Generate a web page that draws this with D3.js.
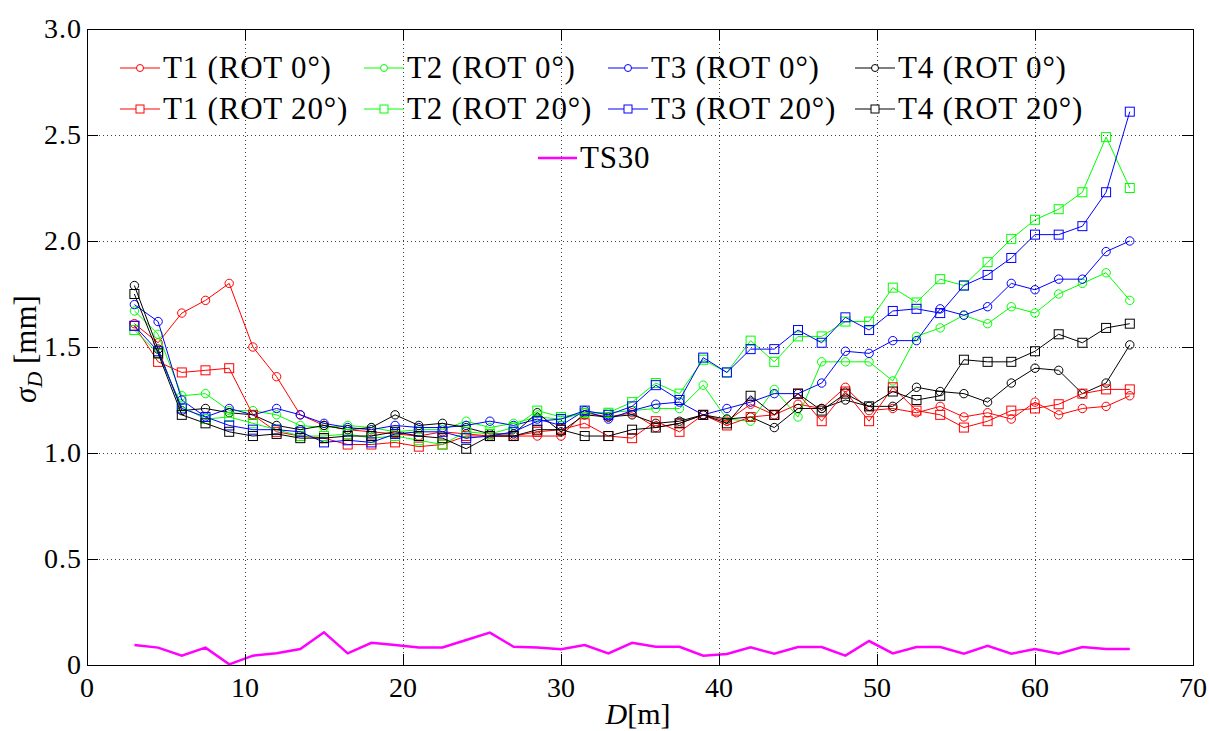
<!DOCTYPE html>
<html>
<head>
<meta charset="utf-8">
<script src="https://cdn.jsdelivr.net/npm/d3@7/dist/d3.min.js"></script>
<style>
  body { margin: 0; background: #fff; }
</style>
</head>
<body>
<svg id="chart" width="1209" height="731"></svg>
<script>
var red = '#ff0000';
var green = '#00ff00';
var blue = '#0000ff';
var black = '#000000';
var magenta = '#ff00ff';
var textFont = '"Liberation Serif", "Times New Roman"';

var width = 1209;
var height = 731;
var margin = { top: 29, right: 16, bottom: 66, left: 87 };

// distances [m]
var dist = [3, 4.5, 6, 7.5, 9, 10.5, 12, 13.5, 15, 16.5, 18, 19.5, 21, 22.5, 24, 25.5, 27, 28.5, 30, 31.5,
  33, 34.5, 36, 37.5, 39, 40.5, 42, 43.5, 45, 46.5, 48, 49.5, 51, 52.5, 54, 55.5, 57, 58.5, 60, 61.5, 63, 64.5, 66];

var t1Rot0 = [1.61, 1.52, 1.66, 1.72, 1.80, 1.50, 1.36, 1.18, 1.13, 1.11, 1.10, 1.09, 1.08, 1.10, 1.09, 1.08, 1.08, 1.08, 1.08, 1.19,
  1.17, 1.19, 1.12, 1.14, 1.18, 1.15, 1.23, 1.18, 1.23, 1.21, 1.31, 1.20, 1.21, 1.19, 1.22, 1.17, 1.19, 1.16, 1.24, 1.18, 1.21, 1.22, 1.27];
var t1Rot20 = [1.60, 1.43, 1.38, 1.39, 1.40, 1.18, 1.10, 1.08, 1.07, 1.04, 1.04, 1.05, 1.03, 1.04, 1.08, 1.08, 1.08, 1.10, 1.11, 1.14,
  1.08, 1.07, 1.15, 1.10, 1.18, 1.13, 1.17, 1.18, 1.28, 1.15, 1.29, 1.15, 1.31, 1.20, 1.18, 1.12, 1.15, 1.20, 1.21, 1.23, 1.28, 1.30, 1.30];
var t2Rot0 = [1.67, 1.56, 1.27, 1.28, 1.20, 1.20, 1.18, 1.13, 1.12, 1.13, 1.12, 1.10, 1.11, 1.11, 1.15, 1.12, 1.14, 1.17, 1.16, 1.19,
  1.19, 1.20, 1.21, 1.21, 1.32, 1.16, 1.15, 1.30, 1.17, 1.43, 1.43, 1.43, 1.34, 1.55, 1.59, 1.65, 1.61, 1.69, 1.66, 1.75, 1.80, 1.85, 1.72];
var t2Rot20 = [1.58, 1.47, 1.22, 1.16, 1.17, 1.14, 1.11, 1.08, 1.08, 1.09, 1.07, 1.08, 1.06, 1.04, 1.10, 1.09, 1.12, 1.20, 1.17, 1.19,
  1.19, 1.24, 1.33, 1.28, 1.44, 1.38, 1.53, 1.43, 1.55, 1.55, 1.62, 1.62, 1.78, 1.71, 1.82, 1.79, 1.90, 2.01, 2.10, 2.15, 2.23, 2.49, 2.25];
var t3Rot0 = [1.70, 1.62, 1.25, 1.17, 1.21, 1.18, 1.21, 1.18, 1.14, 1.12, 1.11, 1.13, 1.12, 1.12, 1.13, 1.15, 1.13, 1.16, 1.13, 1.20,
  1.16, 1.20, 1.23, 1.24, 1.18, 1.21, 1.24, 1.28, 1.28, 1.33, 1.48, 1.47, 1.53, 1.53, 1.68, 1.65, 1.69, 1.80, 1.77, 1.82, 1.82, 1.95, 2.00];
var t3Rot20 = [1.60, 1.48, 1.21, 1.17, 1.13, 1.11, 1.11, 1.10, 1.05, 1.06, 1.05, 1.09, 1.10, 1.10, 1.07, 1.08, 1.10, 1.15, 1.16, 1.20,
  1.18, 1.22, 1.32, 1.25, 1.45, 1.38, 1.49, 1.49, 1.58, 1.52, 1.64, 1.58, 1.67, 1.68, 1.66, 1.79, 1.84, 1.92, 2.03, 2.03, 2.07, 2.23, 2.61];
var t4Rot0 = [1.79, 1.49, 1.20, 1.21, 1.19, 1.18, 1.13, 1.11, 1.13, 1.11, 1.12, 1.18, 1.13, 1.14, 1.12, 1.09, 1.09, 1.19, 1.10, 1.18,
  1.17, 1.18, 1.14, 1.15, 1.18, 1.16, 1.17, 1.12, 1.21, 1.21, 1.25, 1.22, 1.22, 1.31, 1.29, 1.28, 1.24, 1.33, 1.40, 1.39, 1.28, 1.33, 1.51];
var t4Rot20 = [1.75, 1.47, 1.18, 1.14, 1.10, 1.08, 1.09, 1.07, 1.07, 1.08, 1.08, 1.10, 1.08, 1.07, 1.02, 1.08, 1.08, 1.11, 1.11, 1.08,
  1.08, 1.11, 1.12, 1.14, 1.18, 1.14, 1.27, 1.18, 1.28, 1.20, 1.28, 1.22, 1.29, 1.25, 1.27, 1.44, 1.43, 1.43, 1.48, 1.56, 1.52, 1.59, 1.61];
var ts30 = [0.094, 0.082, 0.044, 0.082, 0.003, 0.044, 0.055, 0.075, 0.154, 0.055, 0.105, 0.094, 0.083, 0.083, 0.118, 0.153, 0.086, 0.082, 0.074, 0.094,
  0.055, 0.105, 0.086, 0.086, 0.044, 0.052, 0.083, 0.053, 0.085, 0.085, 0.044, 0.113, 0.055, 0.085, 0.085, 0.053, 0.091, 0.053, 0.075, 0.053, 0.085, 0.075, 0.075];

var xTicks = [0, 10, 20, 30, 40, 50, 60, 70];
var yTicks = [0, 0.5, 1.0, 1.5, 2.0, 2.5, 3.0];

var series = [
  { name: 'T1 (ROT 0°)', values: t1Rot0, color: red, marker: 'circle' },
  { name: 'T2 (ROT 0°)', values: t2Rot0, color: green, marker: 'circle' },
  { name: 'T3 (ROT 0°)', values: t3Rot0, color: blue, marker: 'circle' },
  { name: 'T4 (ROT 0°)', values: t4Rot0, color: black, marker: 'circle' },
  { name: 'T1 (ROT 20°)', values: t1Rot20, color: red, marker: 'square' },
  { name: 'T2 (ROT 20°)', values: t2Rot20, color: green, marker: 'square' },
  { name: 'T3 (ROT 20°)', values: t3Rot20, color: blue, marker: 'square' },
  { name: 'T4 (ROT 20°)', values: t4Rot20, color: black, marker: 'square' }
];

var svg = d3.select('#chart');
svg.append('rect').attr('width', width).attr('height', height).attr('fill', '#fff');

var x = d3.scaleLinear().domain([0, 70]).range([margin.left, width - margin.right]);
var y = d3.scaleLinear().domain([0, 3]).range([height - margin.bottom, margin.top]);

var x0 = x(0), x1 = x(70), y0 = y(0), y1 = y(3);

/// grid
var grid = svg.append('g').attr('stroke', '#000').attr('stroke-width', 1)
  .attr('stroke-dasharray', '1,3').attr('opacity', 0.75);
grid.selectAll('.vg').data(xTicks.slice(1, -1)).enter().append('line')
  .attr('x1', function (d) { return Math.round(x(d)) + 0.5; })
  .attr('x2', function (d) { return Math.round(x(d)) + 0.5; })
  .attr('y1', y0).attr('y2', y1);
grid.selectAll('.hg').data(yTicks.slice(1, -1)).enter().append('line')
  .attr('y1', function (d) { return Math.round(y(d)) + 0.5; })
  .attr('y2', function (d) { return Math.round(y(d)) + 0.5; })
  .attr('x1', x0).attr('x2', x1);

/// series
var line = d3.line()
  .x(function (d, i) { return x(dist[i]); })
  .y(function (d) { return y(d); });

series.forEach(function (s) {
  var g = svg.append('g');
  g.append('path').datum(s.values)
    .attr('d', line).attr('fill', 'none')
    .attr('stroke', s.color).attr('stroke-width', 1);
  if (s.marker === 'circle') {
    g.selectAll('circle').data(s.values).enter().append('circle')
      .attr('cx', function (d, i) { return x(dist[i]); })
      .attr('cy', function (d) { return y(d); })
      .attr('r', 4.2)
      .attr('fill', 'none').attr('stroke', s.color).attr('stroke-width', 1);
  } else {
    g.selectAll('rect').data(s.values).enter().append('rect')
      .attr('x', function (d, i) { return x(dist[i]) - 4.5; })
      .attr('y', function (d) { return y(d) - 4.5; })
      .attr('width', 9).attr('height', 9)
      .attr('fill', 'none').attr('stroke', s.color).attr('stroke-width', 1);
  }
});

svg.append('path').datum(ts30)
  .attr('d', line).attr('fill', 'none')
  .attr('stroke', magenta).attr('stroke-width', 2.5);

/// axes box + ticks (inside, matlab style)
var ax = svg.append('g').attr('stroke', '#000').attr('stroke-width', 1);
ax.append('rect').attr('x', x0 + 0.5).attr('y', y1 + 0.5)
  .attr('width', x1 - x0).attr('height', y0 - y1).attr('fill', 'none');
var tl = 11;
xTicks.forEach(function (t) {
  var px = Math.round(x(t)) + 0.5;
  ax.append('line').attr('x1', px).attr('x2', px).attr('y1', y0).attr('y2', y0 - tl);
  ax.append('line').attr('x1', px).attr('x2', px).attr('y1', y1).attr('y2', y1 + tl);
});
yTicks.forEach(function (t) {
  var py = Math.round(y(t)) + 0.5;
  ax.append('line').attr('y1', py).attr('y2', py).attr('x1', x0).attr('x2', x0 + tl);
  ax.append('line').attr('y1', py).attr('y2', py).attr('x1', x1).attr('x2', x1 - tl);
});

/// tick labels
svg.selectAll('.xl').data(xTicks).enter().append('text')
  .style('font-family', textFont)
  .attr('x', function (d) { return x(d); })
  .attr('y', y0 + 32)
  .attr('text-anchor', 'middle')
  .attr('font-size', '28px')
  .text(function (d) { return d; });

svg.selectAll('.yl').data(yTicks).enter().append('text')
  .style('font-family', textFont)
  .attr('x', x0 - 5)
  .attr('y', function (d) { return y(d) + 9; })
  .attr('text-anchor', 'end')
  .attr('font-size', '28px')
  .attr('letter-spacing', '1px')
  .text(function (d) { return d === 0 ? '0' : d.toFixed(1); });

/// axis titles
var xt = svg.append('text').style('font-family', textFont)
  .attr('x', 638).attr('y', 724)
  .attr('text-anchor', 'middle').attr('font-size', '30px');
xt.append('tspan').attr('font-style', 'italic').text('D');
xt.append('tspan').text('[m]');

var yt = svg.append('text').style('font-family', textFont)
  .attr('transform', 'translate(36,349) rotate(-90)')
  .attr('text-anchor', 'middle').attr('font-size', '31px');
yt.append('tspan').attr('font-style', 'italic').text('σ');
yt.append('tspan').attr('font-style', 'italic').attr('font-size', '22px').attr('dy', 6).text('D');
yt.append('tspan').attr('dy', -6).text(' [mm]');

/// legend
var legendCols = [120, 364, 608, 855];
var legendRows = [68, 109];
var leg = svg.append('g');
series.forEach(function (s, i) {
  var lx = legendCols[i % 4];
  var ly = legendRows[Math.floor(i / 4)];
  leg.append('line').attr('x1', lx).attr('x2', lx + 40).attr('y1', ly).attr('y2', ly)
    .attr('stroke', s.color).attr('stroke-width', 1);
  if (s.marker === 'circle') {
    leg.append('circle').attr('cx', lx + 20).attr('cy', ly).attr('r', 3.5)
      .attr('fill', '#fff').attr('stroke', s.color);
  } else {
    leg.append('rect').attr('x', lx + 16).attr('y', ly - 4).attr('width', 8).attr('height', 8)
      .attr('fill', '#fff').attr('stroke', s.color);
  }
  leg.append('text').style('font-family', textFont)
    .attr('x', lx + 43).attr('y', ly + 10)
    .attr('font-size', '31px').attr('letter-spacing', '0.8px')
    .text(s.name);
});
leg.append('line').attr('x1', 538).attr('x2', 577).attr('y1', 158).attr('y2', 158)
  .attr('stroke', magenta).attr('stroke-width', 2.5);
leg.append('text').style('font-family', textFont)
  .attr('x', 580).attr('y', 168)
  .attr('font-size', '31px').attr('letter-spacing', '0.8px').text('TS30');
</script>
</body>
</html>
